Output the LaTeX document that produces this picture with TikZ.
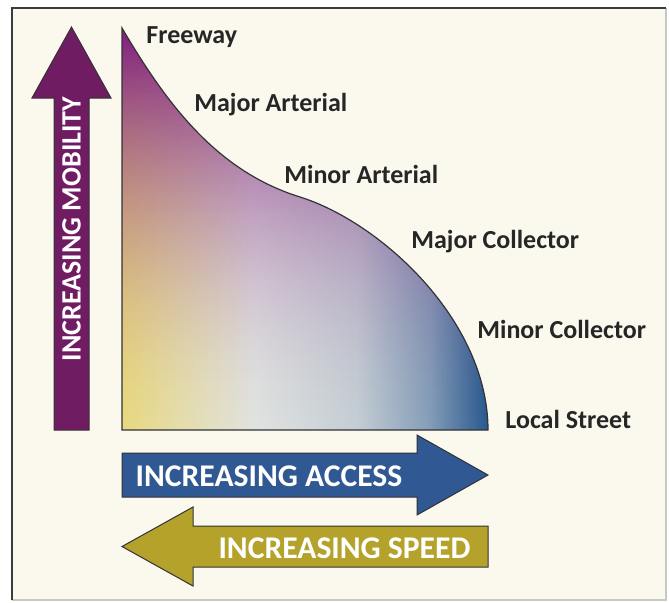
\documentclass[tikz,border=0pt]{standalone}
\usepackage{fontspec}
\setmainfont{Carlito}
\definecolor{cBack}{RGB}{251,249,238}
\definecolor{cFrame}{RGB}{60,60,60}
\definecolor{cFrameLt}{RGB}{200,200,195}
\definecolor{cMob}{RGB}{112,28,98}
\definecolor{cTint}{RGB}{128,30,128}
\definecolor{cAcc}{RGB}{48,88,146}
\definecolor{cSpd}{RGB}{181,162,42}
\definecolor{cYel}{RGB}{232,216,128}
\definecolor{cPale}{RGB}{224,226,224}
\definecolor{cBlu}{RGB}{40,88,142}
\colorlet{cMid}{cPale!85!cBlu}
\colorlet{cMid2}{cPale!50!cBlu}
\definecolor{cEdge}{RGB}{50,50,55}
\pgfdeclarehorizontalshading{accessshade}{100bp}{color(0bp)=(cYel); color(25bp)=(cYel); color(43bp)=(cPale); color(57bp)=(cMid); color(67bp)=(cMid2); color(75bp)=(cBlu); color(100bp)=(cBlu)}
\tikzset{
  lbl/.style={anchor=west,inner sep=0pt,font=\bfseries\fontsize{13}{13}\selectfont,text=black!85},
  arrtxt/.style={inner sep=0pt,text=white,font=\bfseries\fontsize{15.8}{16}\selectfont},
  arrline/.style={draw=cEdge,line width=0.5pt}
}
\begin{document}
\begin{tikzpicture}[x=0.5pt,y=-0.5pt]
\useasboundingbox (0,0) rectangle (669,602);
\fill[cBack] (12,8) rectangle (666,600);
\draw[cFrameLt,line width=0.8pt] (666,8) -- (666,600) -- (12,600);
\draw[cFrame,line width=0.8pt] (12,600) -- (12,8) -- (666,8);
% mobility / access region
\begin{scope}
\clip (122,28) .. controls (170,110) and (220,172) .. (300,197) .. controls (380,222) and (488,320) .. (488,430) -- (122,430) -- cycle;
\shade[shading=accessshade] (122,28) rectangle (488,430);
\foreach \yy in {28,31,...,427}{
  \pgfmathsetmacro\op{(1-(\yy+1.5-28)/402)^1.8}
  \fill[cTint,fill opacity=\op] (122,\yy) rectangle (488,\yy+3);
}
\end{scope}
\draw[cEdge,line width=0.6pt] (122,28) .. controls (170,110) and (220,172) .. (300,197) .. controls (380,222) and (488,320) .. (488,430) -- (122,430) -- cycle;
% arrows
\fill[cMob,arrline] (54,430) -- (54,98) -- (32,98) -- (71.5,27) -- (111,98) -- (89,98) -- (89,430) -- cycle;
\fill[cAcc,arrline] (122,453) -- (417,453) -- (417,435) -- (488,475) -- (417,515) -- (417,497) -- (122,497) -- cycle;
\fill[cSpd,arrline] (488,526) -- (193,526) -- (193,507) -- (122,546.5) -- (193,586) -- (193,567) -- (488,567) -- cycle;
\node[arrtxt,rotate=90,font=\bfseries\fontsize{14}{14}\selectfont] (mob) at (71.5,229) {INCREASING MOBILITY};
\node[arrtxt] (acc) at (269,476) {INCREASING ACCESS};
\node[arrtxt] (spd) at (344.5,548) {INCREASING SPEED};
% road classes
\node[lbl] (fwy) at (146,37) {Freeway};
\node[lbl] (majart) at (194,105) {Major Arterial};
\node[lbl] (minart) at (284,174) {Minor Arterial};
\node[lbl] (majcol) at (411,242) {Major Collector};
\node[lbl] (mincol) at (477,329) {Minor Collector};
\node[lbl] (local) at (505,419) {Local Street};
\end{tikzpicture}
\end{document}
